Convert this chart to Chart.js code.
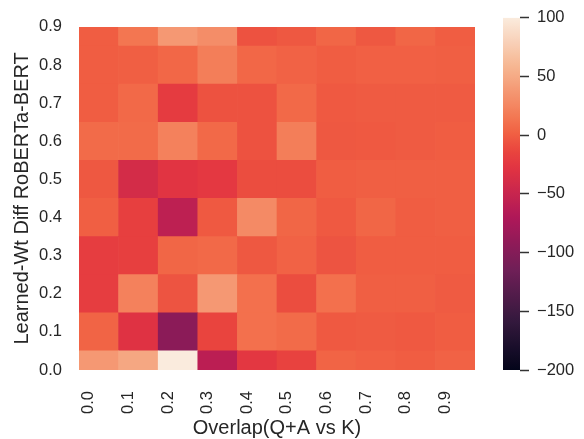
<!DOCTYPE html>
<html>
<head>
<meta charset="utf-8">
<script src="https://cdn.jsdelivr.net/npm/chart.js@4"></script>
<style>
  html, body { margin: 0; padding: 0; background: #fff; }
  #wrap { position: relative; width: 584px; height: 439px; }
  #wrap canvas { position: absolute; left: 0; top: 0; }
</style>
</head>
<body>
<div id="wrap">
  <canvas id="heat" width="584" height="439"></canvas>
  <canvas id="cbar" width="584" height="439"></canvas>
</div>
<script>
// column / row labels
const colLabels = ['0.0', '0.1', '0.2', '0.3', '0.4', '0.5', '0.6', '0.7', '0.8', '0.9'];
const rowLabels = ['0.0', '0.1', '0.2', '0.3', '0.4', '0.5', '0.6', '0.7', '0.8', '0.9'];

// cell values, one array per row (row label -> values across columns)
const row00 = [38, 48, 100, -60, -25, -16, 4, 2, 0, 3];
const row01 = [4, -30, -95, -14, 11, 8, -2, -1, -2, 0];
const row02 = [-20, 22, -5, 38, 11, -9, 11, 1, 1, -1];
const row03 = [-20, -18, 5, 7, -3, 3, -5, 0, 0, 0];
const row04 = [1, -18, -58, -2, 28, 5, -2, 5, 0, 1];
const row05 = [-3, -40, -28, -24, -9, -9, 0, 1, 1, 1];
const row06 = [8, 8, 22, 7, -6, 20, -3, -2, -1, 0];
const row07 = [0, 7, -22, -6, -6, 7, -2, -1, -1, -1];
const row08 = [0, 1, 6, 20, 6, 3, 0, 2, 2, 1];
const row09 = [0, 14, 38, 30, -6, -3, 5, -3, 5, 0];
const rows = [row00, row01, row02, row03, row04, row05, row06, row07, row08, row09];

// colour bar range and ticks
const cbMin = -200;
const cbMax = 100;
const cbTicks = [-200, -150, -100, -50, 0, 50, 100];

// seaborn "rocket" colormap, sampled
const rocketStops = [
  [0.000, [3, 5, 26]],
  [0.143, [53, 25, 62]],
  [0.286, [112, 31, 87]],
  [0.429, [173, 23, 89]],
  [0.571, [225, 51, 66]],
  [0.620, [233, 68, 62]],
  [0.667, [240, 93, 66]],
  [0.690, [242, 105, 72]],
  [0.714, [243, 118, 81]],
  [0.857, [246, 180, 143]],
  [1.000, [250, 235, 221]]
];

function rocketAt(t) {
  t = Math.max(0, Math.min(1, t));
  for (let i = 1; i < rocketStops.length; i++) {
    const [t1, c1] = rocketStops[i];
    const [t0, c0] = rocketStops[i - 1];
    if (t <= t1) {
      const f = (t - t0) / (t1 - t0);
      const c = c0.map((v, j) => Math.round(v + (c1[j] - v) * f));
      return `rgb(${c[0]},${c[1]},${c[2]})`;
    }
  }
  return 'rgb(250,235,221)';
}
const colorFor = v => rocketAt((v - cbMin) / (cbMax - cbMin));

const TEXT = '#262626';
const FONT = 'Liberation Sans, Arial, sans-serif';

// ---- heatmap ----
new Chart(document.getElementById('heat'), {
  type: 'bar',
  data: {
    datasets: rows.map((vals, k) => ({
      label: rowLabels[k],
      data: vals.map((v, i) => ({ x: i + 0.5, y: [k, k + 1] })),
      backgroundColor: vals.map(colorFor),
      borderWidth: 0,
      barPercentage: 1,
      categoryPercentage: 1,
      grouped: false
    }))
  },
  options: {
    responsive: false,
    animation: false,
    layout: { padding: { left: 0, top: 13, right: 109, bottom: 0 } },
    plugins: { legend: { display: false }, tooltip: { enabled: false } },
    scales: {
      x: {
        type: 'linear',
        min: 0, max: colLabels.length,
        offset: false,
        grid: { display: false, drawTicks: false },
        border: { display: false },
        afterBuildTicks: s => { s.ticks = colLabels.map((l, i) => ({ value: i + 0.25 })); },
        afterFit: s => { s.height = 69; },
        ticks: {
          autoSkip: false,
          minRotation: 90, maxRotation: 90,
          padding: 21,
          color: TEXT,
          font: { family: FONT, size: 16.5 },
          callback: (v, i) => colLabels[i]
        },
        title: {
          display: true,
          text: 'Overlap(Q+A vs K)',
          color: TEXT,
          font: { family: FONT, size: 20, lineHeight: 1 },
          padding: { top: 0, bottom: 1 }
        }
      },
      y: {
        type: 'linear',
        min: 0.5, max: rowLabels.length - 0.5,
        offset: false,
        grid: { display: false, drawTicks: false },
        border: { display: false },
        afterBuildTicks: s => { s.ticks = rowLabels.map((l, k) => ({ value: k + 0.5 })); },
        afterFit: s => { s.width = 79; },
        ticks: {
          autoSkip: false,
          padding: 17,
          color: TEXT,
          font: { family: FONT, size: 16.5 },
          callback: (v, i) => rowLabels[i]
        },
        title: {
          display: true,
          text: 'Learned-Wt Diff RoBERTa-BERT',
          color: TEXT,
          font: { family: FONT, size: 20, lineHeight: 1 },
          padding: { top: 12, bottom: 0 }
        }
      }
    }
  }
});

// ---- colour bar ----
const gradientBar = {
  id: 'gradientBar',
  beforeDatasetsDraw(chart) {
    const { ctx, chartArea: a } = chart;
    const g = ctx.createLinearGradient(0, a.bottom, 0, a.top);
    for (let i = 0; i <= 60; i++) g.addColorStop(i / 60, rocketAt(i / 60));
    ctx.save();
    ctx.fillStyle = g;
    ctx.fillRect(a.left, a.top, a.right - a.left, a.bottom - a.top);
    ctx.restore();
  }
};

new Chart(document.getElementById('cbar'), {
  type: 'bar',
  data: { labels: [''], datasets: [] },
  plugins: [gradientBar],
  options: {
    responsive: false,
    animation: false,
    layout: { padding: { left: 503, top: 13, right: 0, bottom: 69 } },
    plugins: { legend: { display: false }, tooltip: { enabled: false } },
    scales: {
      x: { display: false },
      y: {
        display: true,
        position: 'right',
        min: cbMin, max: cbMax,
        afterBuildTicks: s => { s.ticks = cbTicks.map(v => ({ value: v })); },
        afterFit: s => { s.width = 64; },
        grid: { drawOnChartArea: false, drawTicks: true, tickLength: 9, tickWidth: 1.5, tickColor: '#333' },
        border: { display: false },
        ticks: {
          padding: 8,
          color: TEXT,
          font: { family: FONT, size: 16.5 },
          callback: v => (v < 0 ? '\u2212' + Math.abs(v) : String(v))
        }
      }
    }
  }
});
</script>
</body>
</html>
